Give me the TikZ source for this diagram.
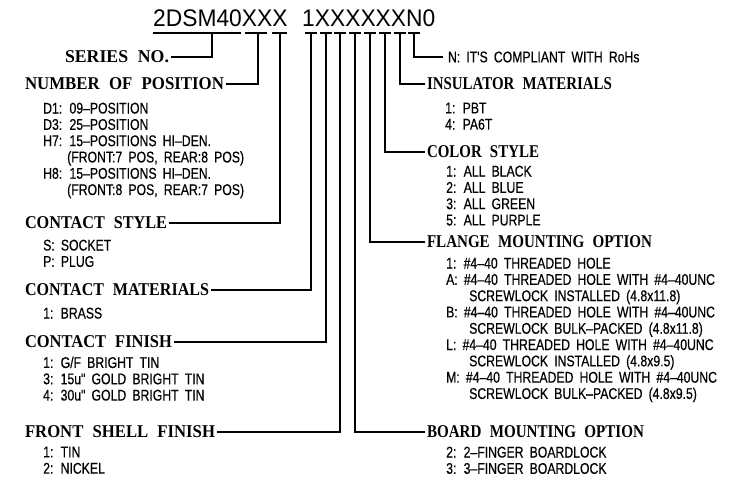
\documentclass[tikz,border=0pt]{standalone}
\usepackage{graphicx}
\usepackage{fontspec}
\newfontfamily\headfont[FakeStretch=0.88,WordSpace=2.2]{Liberation Serif}
\newfontfamily\itemfont[FakeStretch=0.79,WordSpace=1.8,FakeBold=0.4]{Liberation Sans}
\newfontfamily\codefont[FakeStretch=0.95]{Liberation Sans}
% heading text squeezed to a given width
\newcommand\hdfit[2]{\resizebox{#1pt}{\height}{#2}}

\begin{document}
\begin{tikzpicture}[x=1pt,y=-1pt,
    head/.style={font=\headfont\bfseries\fontsize{18}{20}\selectfont,inner sep=0pt,outer sep=2pt,anchor=west},
    list/.style={font=\itemfont\fontsize{15.5}{16.3}\selectfont,inner sep=0pt,anchor=north west,align=left},
    code/.style={font=\codefont\fontsize{24}{26}\selectfont,inner sep=0pt,anchor=west},
    lead/.style={line width=1.2pt}]
    \useasboundingbox (0,0) rectangle (733,479);
    % part number
    \node[code] (pnA) at (153,18) {2DSM40XXX};
    \node[code] (pnB) at (302,18) {1XXXXXXN0};
    \draw[lead] (153,33) -- (241,33) (245,33) -- (267,33) (272,33) -- (287,33);
    \foreach \x in {311,326,340,355,370,385,400,414}
      \draw[lead] (\x-6,33) -- (\x+6,33);
    % taps on the underline
    \coordinate (tSer) at (212,33);
    \coordinate (tPos) at (258,33);
    \coordinate (tSty) at (280,33);
    \coordinate (tMat) at (311,33);
    \coordinate (tFin) at (326,33);
    \coordinate (tShl) at (340,33);
    \coordinate (tBrd) at (355,33);
    \coordinate (tFlg) at (370,33);
    \coordinate (tCol) at (385,33);
    \coordinate (tIns) at (400,33);
    \coordinate (tRoh) at (414,33);
    % left side
    \node[head] (ser) at (63,57) {\hdfit{104}{SERIES NO.}};
    \node[head] (pos) at (23,84) {\hdfit{199}{NUMBER OF POSITION}};
    \node[list] (posL) at (43,102.5) {D1: 09–POSITION\\D3: 25–POSITION\\H7: 15–POSITIONS HI–DEN.\\\hspace*{24pt}(FRONT:7 POS, REAR:8 POS)\\H8: 15–POSITIONS HI–DEN.\\\hspace*{24pt}(FRONT:8 POS, REAR:7 POS)};
    \node[head] (sty) at (23,223) {\hdfit{142}{CONTACT STYLE}};
    \node[list] (styL) at (43,239.5) {S: SOCKET\\P: PLUG};
    \node[head] (mat) at (23,290) {\hdfit{184}{CONTACT MATERIALS}};
    \node[list] (matL) at (43,307.5) {1: BRASS};
    \node[head] (fin) at (23,342) {\hdfit{147}{CONTACT FINISH}};
    \node[list] (finL) at (43,356.5) {1: G/F BRIGHT TIN\\3: 15u" GOLD BRIGHT TIN\\4: 30u" GOLD BRIGHT TIN};
    \node[head] (shl) at (23,432) {\hdfit{190}{FRONT SHELL FINISH}};
    \node[list] (shlL) at (43,446.5) {1: TIN\\2: NICKEL};
    % right side
    \node[list,anchor=west,outer sep=5pt] (roh) at (443,57) {N: IT'S COMPLIANT WITH RoHs};
    \node[head] (ins) at (425,84) {\hdfit{185}{INSULATOR MATERIALS}};
    \node[list] (insL) at (445,102.5) {1: PBT\\4: PA6T};
    \node[head] (col) at (425,152) {\hdfit{112}{COLOR STYLE}};
    \node[list] (colL) at (446,165.5) {1: ALL BLACK\\2: ALL BLUE\\3: ALL GREEN\\5: ALL PURPLE};
    \node[head] (flg) at (425,242) {\hdfit{225}{FLANGE MOUNTING OPTION}};
    \node[list] (flgL) at (446,257.5) {1: \#4–40 THREADED HOLE\\A: \#4–40 THREADED HOLE WITH \#4–40UNC\\\hspace*{23pt}SCREWLOCK INSTALLED (4.8x11.8)\\B: \#4–40 THREADED HOLE WITH \#4–40UNC\\\hspace*{23pt}SCREWLOCK BULK–PACKED (4.8x11.8)\\L: \#4–40 THREADED HOLE WITH \#4–40UNC\\\hspace*{23pt}SCREWLOCK INSTALLED (4.8x9.5)\\M: \#4–40 THREADED HOLE WITH \#4–40UNC\\\hspace*{23pt}SCREWLOCK BULK–PACKED (4.8x9.5)};
    \node[head] (brd) at (425,432) {\hdfit{217}{BOARD MOUNTING OPTION}};
    \node[list] (brdL) at (446,446.5) {2: 2–FINGER BOARDLOCK\\3: 3–FINGER BOARDLOCK};
    % leaders
    \draw[lead] (tSer) |- (ser.east);
    \draw[lead] (tPos) |- (pos.east);
    \draw[lead] (tSty) |- (sty.east);
    \draw[lead] (tMat) |- (mat.east);
    \draw[lead] (tFin) |- (fin.east);
    \draw[lead] (tShl) |- (shl.east);
    \draw[lead] (tBrd) |- (brd.west);
    \draw[lead] (tFlg) |- (flg.west);
    \draw[lead] (tCol) |- (col.west);
    \draw[lead] (tIns) |- (ins.west);
    \draw[lead] (tRoh) |- (roh.west);
\end{tikzpicture}
\end{document}
